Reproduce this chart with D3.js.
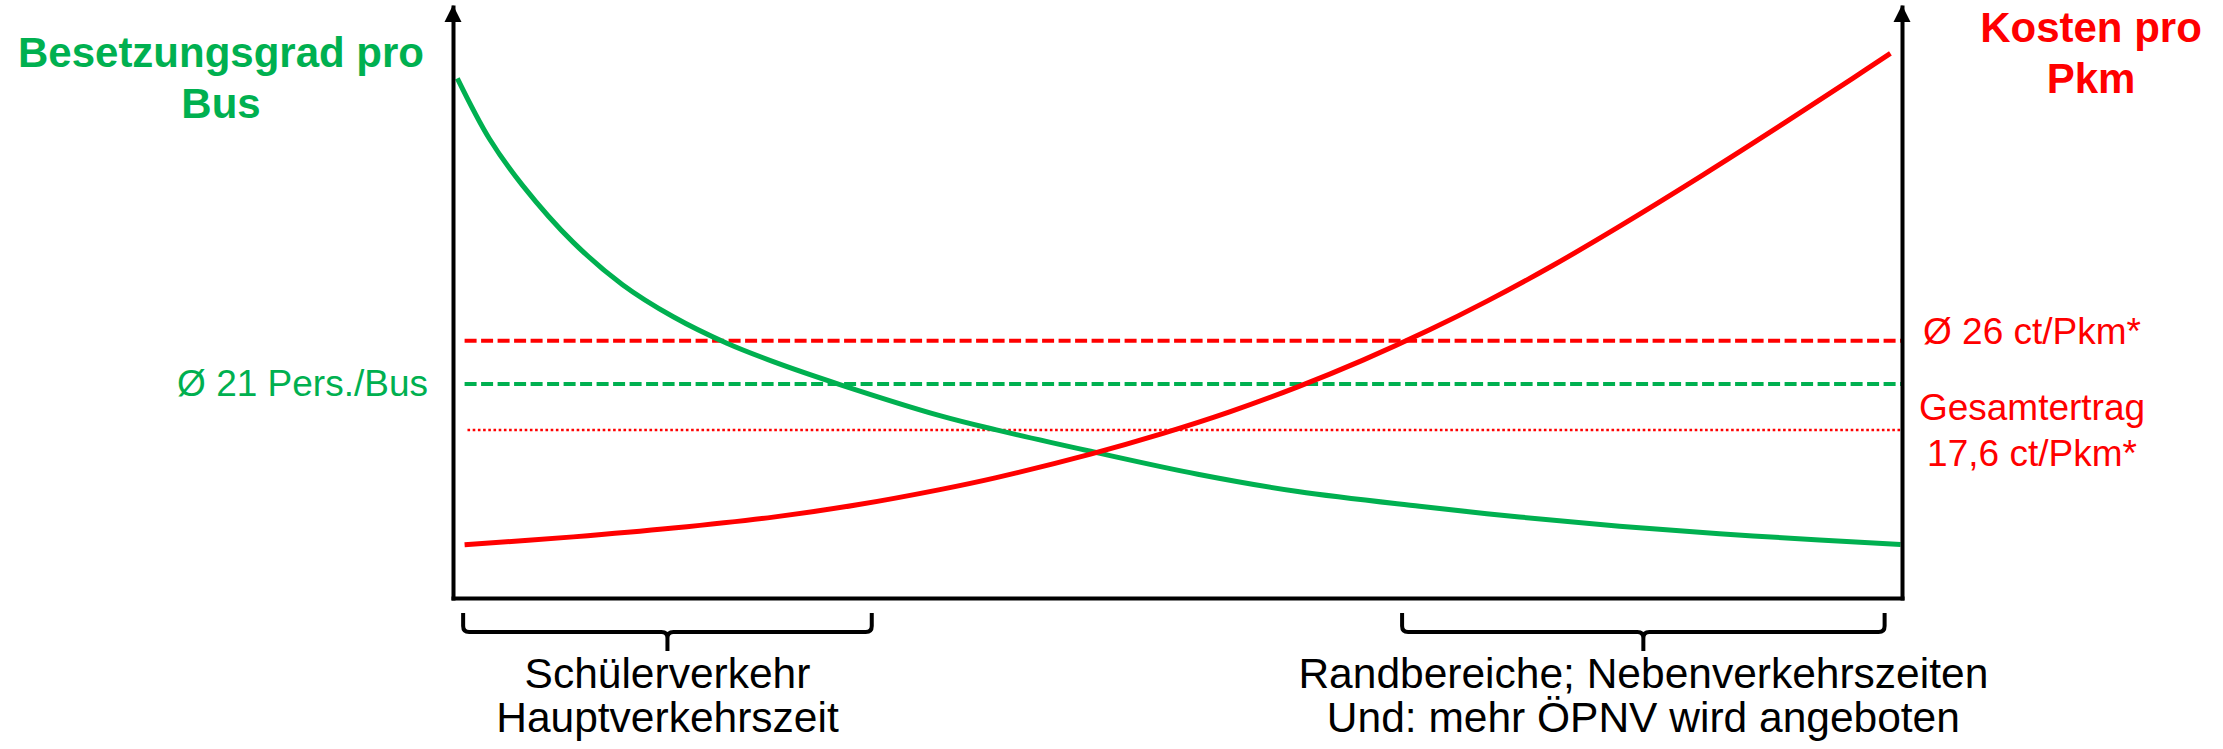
<!DOCTYPE html>
<html><head><meta charset="utf-8">
<script src="https://cdn.jsdelivr.net/npm/d3@7"></script>
<style>body{margin:0;background:#fff}</style>
</head><body><svg id="chart" width="2223" height="749"></svg>
<script>
// ---------- data ----------
// x: position along the (unlabelled) horizontal axis, 0..100
const occX   = [0.3, 2.5, 4.8, 8.3, 11.7, 15.2, 18.9, 22.1, 26.7, 33.6, 37.5, 44.0, 51.4, 58.3, 66.7, 73.6, 80.5, 87.4, 94.3, 99.9];
const occVal = [51.0, 45.1, 40.5, 34.9, 30.75, 27.6, 25.0, 23.2, 20.95, 17.9, 16.5, 14.4, 12.15, 10.45, 9.0, 7.95, 7.05, 6.3, 5.7, 5.25];   // Pers./Bus
const costX   = [0.8, 8.3, 15.2, 22.1, 27.9, 33.6, 37.5, 44.0, 49.0, 53.6, 58.3, 62.8, 67.4, 71.4, 75.9, 80.5, 86.3, 92.1, 96.6, 99.2];
const costVal = [6.8, 7.55, 8.38, 9.41, 10.57, 12.0, 13.13, 15.34, 17.29, 19.31, 21.66, 24.18, 27.03, 29.75, 33.08, 36.76, 41.63, 46.68, 50.69, 53.03]; // ct/Pkm
const avgOcc = 21;         // Ø 21 Pers./Bus
const avgCost = 26;        // Ø 26 ct/Pkm
const totalRevenue = 17.6; // Gesamtertrag 17,6 ct/Pkm
const occTitle  = ["Besetzungsgrad pro", "Bus"];
const costTitle = ["Kosten pro", "Pkm"];
const occRefLabel  = ["Ø 21 Pers./Bus"];
const costRefLabel = ["Ø 26 ct/Pkm*"];
const revRefLabel  = ["Gesamtertrag", "17,6 ct/Pkm*"];
const regionFrom   = [0.7, 65.5];
const regionTo     = [28.9, 98.8];
const regionLabels = [["Schülerverkehr", "Hauptverkehrszeit"], ["Randbereiche; Nebenverkehrszeiten", "Und: mehr ÖPNV wird angeboten"]];

// ---------- layout ----------
const GREEN = "#00B050", RED = "#FF0000";
const FONT = "'Liberation Sans', Arial, sans-serif";
const plot = {left: 453, right: 1902, top: 7, bottom: 598};
const svg = d3.select("#chart");

const x = d3.scaleLinear().domain([0, 100]).range([plot.left, plot.right]);
const yOcc = d3.scaleLinear().domain([0, 58]).range([plot.bottom, plot.top]);
const yCost = d3.scaleLinear().domain([1.8, 57.4]).range([plot.bottom, plot.top]);

// ---------- reference lines ----------
const refG = svg.append("g");
refG.append("line")
  .attr("x1", x(0.8)).attr("x2", x(100))
  .attr("y1", yCost(avgCost)).attr("y2", yCost(avgCost))
  .attr("stroke", RED).attr("stroke-width", 4).attr("stroke-dasharray", "12,4.5");
refG.append("line")
  .attr("x1", x(0.8)).attr("x2", x(100))
  .attr("y1", yOcc(avgOcc)).attr("y2", yOcc(avgOcc))
  .attr("stroke", GREEN).attr("stroke-width", 4).attr("stroke-dasharray", "12,4.5");
refG.append("line")
  .attr("x1", x(1.0)).attr("x2", x(100))
  .attr("y1", yCost(totalRevenue)).attr("y2", yCost(totalRevenue))
  .attr("stroke", RED).attr("stroke-width", 2.5).attr("stroke-dasharray", "2.6,2.6");

// ---------- curves ----------
const occData = occX.map((d, i) => [d, occVal[i]]);
const costData = costX.map((d, i) => [d, costVal[i]]);
svg.append("path").datum(occData)
  .attr("fill", "none").attr("stroke", GREEN).attr("stroke-width", 5)
  .attr("d", d3.line().x(d => x(d[0])).y(d => yOcc(d[1])).curve(d3.curveCatmullRom.alpha(0.5)));
svg.append("path").datum(costData)
  .attr("fill", "none").attr("stroke", RED).attr("stroke-width", 5)
  .attr("d", d3.line().x(d => x(d[0])).y(d => yCost(d[1])).curve(d3.curveCatmullRom.alpha(0.5)));

// ---------- axes ----------
function styleAxis(g) {
  g.select(".domain").attr("stroke", "#000").attr("stroke-width", 4).attr("stroke-linecap", "square");
}
svg.append("g").attr("transform", `translate(${plot.left},0)`)
  .call(d3.axisLeft(yOcc).tickValues([]).tickSizeOuter(0)).call(styleAxis);
svg.append("g").attr("transform", `translate(${plot.right},0)`)
  .call(d3.axisRight(yCost).tickValues([]).tickSizeOuter(0)).call(styleAxis);
svg.append("g").attr("transform", `translate(0,${plot.bottom})`)
  .call(d3.axisBottom(x).tickValues([]).tickSizeOuter(0)).call(styleAxis);
// arrowheads
[plot.left, plot.right].forEach(ax => {
  const tip = plot.top - 2;
  svg.append("path")
    .attr("d", `M${ax},${tip} L${ax - 8.5},${tip + 17} L${ax + 8.5},${tip + 17} Z`)
    .attr("fill", "#000");
});

// ---------- titles ----------
function multiText(lines, cx, y0, dy, opts) {
  const t = svg.append("text")
    .attr("text-anchor", opts.anchor || "middle")
    .attr("font-family", FONT)
    .attr("font-size", opts.size)
    .attr("font-weight", opts.weight || "normal")
    .attr("fill", opts.color);
  lines.forEach((l, i) => t.append("tspan").attr("x", cx).attr("y", y0 + i * dy).text(l));
}
multiText(occTitle, 221, 67, 51, {size: 42, weight: "bold", color: GREEN});
multiText(costTitle, 2091, 42, 51, {size: 42, weight: "bold", color: RED});

// ---------- reference labels ----------
multiText(occRefLabel, 428, yOcc(avgOcc) + 12, 0, {size: 37, color: GREEN, anchor: "end"});
multiText(costRefLabel, 2032, yCost(avgCost) + 3.5, 0, {size: 37, color: RED});
multiText(revRefLabel, 2032, yCost(totalRevenue) - 10, 46, {size: 37, color: RED});

// ---------- braces ----------
const braceTop = 613, braceBar = 632, braceTip = 651, r = 6;
regionLabels.forEach((lab, i) => {
  const x0 = x(regionFrom[i]), x1 = x(regionTo[i]), xm = (x0 + x1) / 2;
  const p = `M${x0},${braceTop} L${x0},${braceBar - r} Q${x0},${braceBar} ${x0 + r},${braceBar}` +
            ` L${xm - r},${braceBar} Q${xm},${braceBar} ${xm},${braceBar + r} L${xm},${braceTip}` +
            ` M${xm},${braceBar + r} Q${xm},${braceBar} ${xm + r},${braceBar}` +
            ` L${x1 - r},${braceBar} Q${x1},${braceBar} ${x1},${braceBar - r} L${x1},${braceTop}`;
  svg.append("path").attr("d", p).attr("fill", "none").attr("stroke", "#000").attr("stroke-width", 4);
  multiText(lab, xm, 688, 44, {size: 42.5, color: "#000"});
});
</script>
</body></html>
